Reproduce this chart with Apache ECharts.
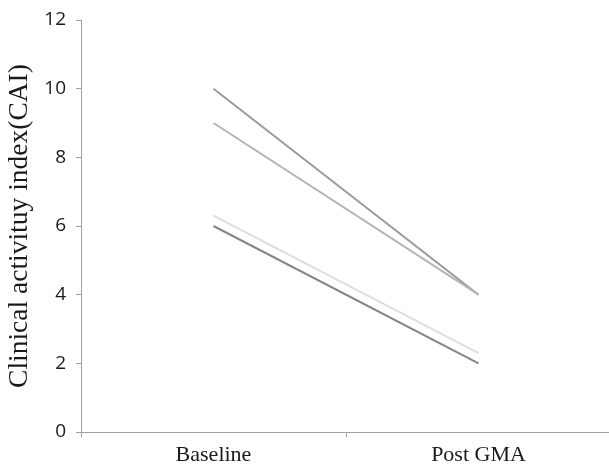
<!DOCTYPE html>
<html><head><meta charset="utf-8">
<script src="https://cdn.jsdelivr.net/npm/echarts@6/dist/echarts.min.js"></script>
<style>html,body{margin:0;padding:0;background:#fff}#c{width:609px;height:467px}</style>
</head><body><div id="c"></div>
<script>
const categories = ['Baseline', 'Post GMA'];
const patientA = [10, 4];
const patientB = [9, 4];
const patientC = [6.3, 2.3];
const patientD = [6, 2];
const yTicks = [0, 2, 4, 6, 8, 10, 12];

const seriesList = [
  { data: patientA, color: '#9a9a9a' },
  { data: patientB, color: '#b4b4b4' },
  { data: patientC, color: '#dedede' },
  { data: patientD, color: '#858585' }
];

const chart = echarts.init(document.getElementById('c'), null, { renderer: 'canvas' });
chart.setOption({
  animation: false,
  grid: { left: 81, right: -2, top: 20, bottom: 35, containLabel: false, outerBoundsMode: 'none' },
  xAxis: {
    type: 'category', data: categories, boundaryGap: true,
    axisLine: { lineStyle: { color: '#a0a0a0', width: 1 } },
    axisTick: { show: true, length: 5, lineStyle: { color: '#a0a0a0' } },
    axisLabel: { fontFamily: 'Liberation Serif', fontSize: 22, color: '#1a1a1a', margin: 12 }
  },
  yAxis: {
    type: 'value', min: yTicks[0], max: yTicks[yTicks.length - 1], interval: 2,
    name: 'Clinical activituy index(CAI)', nameLocation: 'middle', nameGap: 45,
    nameTextStyle: { fontFamily: 'Liberation Serif', fontSize: 27.5, color: '#1a1a1a' },
    axisLine: { show: true, lineStyle: { color: '#a0a0a0', width: 1 } },
    axisTick: { show: true, length: 5, lineStyle: { color: '#a0a0a0' } },
    splitLine: { show: false },
    axisLabel: { fontFamily: 'Open Sans', fontSize: 19, color: '#1a1a1a', margin: 15 }
  },
  series: seriesList.map(s => ({
    type: 'line', data: s.data, symbol: 'none',
    lineStyle: { color: s.color, width: 2 }
  }))
});
</script></body></html>
